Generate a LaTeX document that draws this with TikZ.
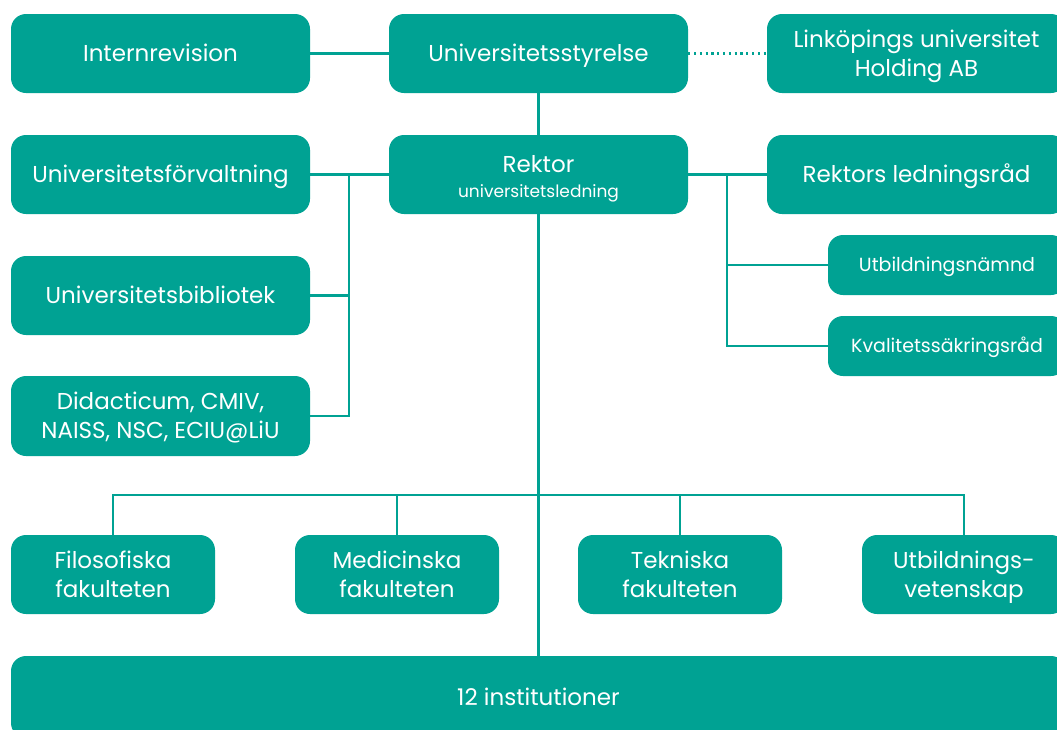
\documentclass[tikz,border=0pt]{standalone}
\usepackage{fontspec}
\setmainfont{Poppins}
\definecolor{liuteal}{RGB}{0,162,147}
\newcommand{\topstrut}{\rule{0pt}{1.0em}}
\newcommand{\twostrut}{\rule{0pt}{2.26em}}
\newcommand{\botstrut}{\rule[-0.3em]{0pt}{0.3em}}
\tikzset{
	box/.style={fill=liuteal, text=white, rounded corners=15pt, inner sep=0pt, align=center,
		minimum width=299pt, minimum height=79pt, font=\fontsize{23}{29}\selectfont,
		execute at begin node=\topstrut, execute at end node=\botstrut},
	twoline/.style={execute at begin node=\twostrut},
	smallbox/.style={box, minimum width=238pt, minimum height=60pt, font=\fontsize{19}{24}\selectfont},
	fakbox/.style={box, twoline, minimum width=204pt},
	link/.style={draw=liuteal, line width=2.6pt},
}
\begin{document}
\begin{tikzpicture}[x=1pt, y=-1pt]
	\useasboundingbox (0,0) rectangle (1057,729);
	% top row
	\node[box] (intrev) at (160.5,53.5) {Internrevision};
	\node[box] (styr) at (538.5,53.5) {Universitetsstyrelse};
	\node[box, twoline] (holding) at (916.5,53.5) {Linköpings universitet\\Holding AB};
	% ledning
	\node[box] (forv) at (160.5,174.5) {Universitetsförvaltning};
	\node[box, twoline] (rektor) at (538.5,174.5) {Rektor\\[-4pt]{\fontsize{17}{22}\selectfont universitetsledning}};
	\node[box] (lrad) at (916.5,174.5) {Rektors ledningsråd};
	\node[box] (bibl) at (160.5,295.5) {Universitetsbibliotek};
	\node[box, twoline, minimum height=80pt] (didac) at (160.5,416) {Didacticum, CMIV,\\NAISS, NSC, ECIU@LiU};
	\node[smallbox] (utbn) at (947,265) {Utbildningsnämnd};
	\node[smallbox] (kval) at (947,346) {Kvalitetssäkringsråd};
	% fakulteter
	\node[fakbox] (filfak) at (113,574.5) {Filosofiska\\fakulteten};
	\node[fakbox] (medfak) at (397,574.5) {Medicinska\\fakulteten};
	\node[fakbox] (tekfak) at (680,574.5) {Tekniska\\fakulteten};
	\node[fakbox] (utvet) at (964,574.5) {Utbildnings-\\vetenskap};
	\node[box, minimum width=1055pt, minimum height=82pt] (inst) at (538.5,697) {12 institutioner};
	% connectors
	\coordinate (lbus) at (349,174.5);
	\coordinate (rbus) at (727,174.5);
	\coordinate (fbus) at (538.5,495);
	\draw[link] (intrev) -- (styr);
	\draw[link, line width=2.2pt, dash pattern=on 2.2pt off 3.6pt] (styr) -- (holding);
	\draw[link] (styr) -- (rektor);
	\draw[link] (forv) -- (rektor);
	\draw[link] (rektor) -- (lrad);
	\draw[link] (lbus) |- (bibl);
	\draw[link] (lbus) |- (didac);
	\draw[link] (rbus) |- (utbn);
	\draw[link] (rbus) |- (kval);
	\draw[link] (rektor) -- (inst);
	\draw[link] (filfak) |- (fbus) -| (utvet);
	\draw[link] (medfak) -- (medfak |- fbus);
	\draw[link] (tekfak) -- (tekfak |- fbus);
\end{tikzpicture}
\end{document}
